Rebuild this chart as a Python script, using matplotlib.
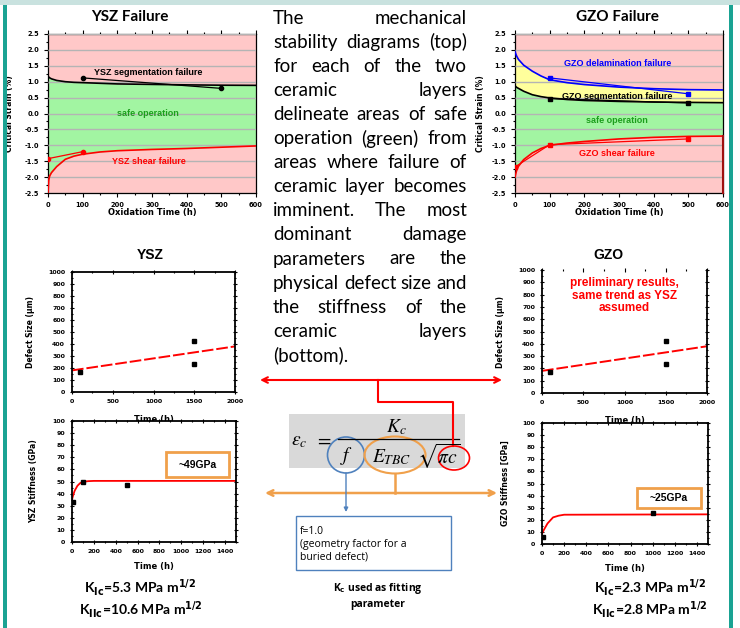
import matplotlib.pyplot as plt
from matplotlib.patches import Rectangle, Ellipse
from matplotlib.ticker import MultipleLocator

# ---- data: mechanical stability diagrams (critical strain, %) ----
t_fit = [0, 2, 5, 10, 25, 50, 75, 100, 150, 200, 300, 400, 500, 600]
ysz_seg_fit = [1.17, 1.15, 1.12, 1.09, 1.04, 1.00, 0.98, 0.97, 0.95, 0.93, 0.915, 0.90, 0.89, 0.885]
ysz_shear_fit = [-2.5, -2.1, -1.96, -1.86, -1.67, -1.44, -1.34, -1.28, -1.21, -1.17, -1.13, -1.10, -1.06, -1.02]
ysz_seg_t = [100, 500]
ysz_seg_pts = [1.12, 0.79]
ysz_shear_t = [0, 100]
ysz_shear_pts = [-1.42, -1.20]

gzo_del_fit = [1.95, 1.88, 1.80, 1.70, 1.52, 1.33, 1.18, 1.06, 0.97, 0.91, 0.83, 0.78, 0.75, 0.74]
gzo_seg_fit = [0.87, 0.85, 0.82, 0.79, 0.70, 0.59, 0.53, 0.49, 0.44, 0.41, 0.38, 0.36, 0.35, 0.34]
gzo_shear_fit = [-2.0, -1.9, -1.78, -1.66, -1.45, -1.24, -1.10, -1.00, -0.93, -0.88, -0.80, -0.75, -0.72, -0.71]
gzo_del_t = [100, 500]
gzo_del_pts = [1.12, 0.62]
gzo_seg_t = [100, 500]
gzo_seg_pts = [0.47, 0.33]
gzo_shear_t = [0, 100, 500]
gzo_shear_pts = [-1.68, -0.98, -0.80]
strain_ticks = [-2.5, -2.0, -1.5, -1.0, -0.5, 0.0, 0.5, 1.0, 1.5, 2.0, 2.5]

# ---- data: defect size (um) ----
defect_t = [100, 1500, 1500]
defect_um = [170, 425, 235]
defect_fit_t = [0, 2000]
defect_fit_um = [180, 380]

# ---- data: stiffness (GPa) ----
ysz_E_t = [10, 100, 500]
ysz_E = [33, 49.6, 47.4]
ysz_E_fit_t = [0, 10, 25, 50, 75, 100, 150, 200, 1500]
ysz_E_fit = [35, 38.5, 42.5, 46.5, 48.7, 49.8, 50.3, 50.5, 50.5]
gzo_E_t = [10, 1000]
gzo_E = [6, 25.3]
gzo_E_fit_t = [0, 10, 25, 50, 100, 150, 200, 1500]
gzo_E_fit = [8.5, 10.5, 13, 17, 22, 23.4, 24.2, 24.5]

para_lines = [
    "The mechanical",
    "stability diagrams (top)",
    "for each of the two",
    "ceramic layers",
    "delineate areas of safe",
    "operation (green) from",
    "areas where failure of",
    "ceramic layer becomes",
    "imminent. The most",
    "dominant damage",
    "parameters are the",
    "physical defect size and",
    "the stiffness of the",
    "ceramic layers",
    "(bottom).",
]

W, H = 740, 628
PINK = '#ffc8c8'
GREEN = '#a2f5a2'
YELLOW = '#ffff9c'
TEAL = '#1aa393'
ORANGE = '#f0a04b'
BLUE = '#4f81bd'

fig = plt.figure(figsize=(W / 100, H / 100), dpi=100)


def px_axes(l, t, r, b):
    return fig.add_axes([l / W, 1 - b / H, (r - l) / W, (b - t) / H])


def small_style(ax, direction='out', fs=4.5):
    for s in ax.spines.values():
        s.set_linewidth(0.9)
    ax.tick_params(which='both', direction=direction, labelsize=fs, width=0.8,
                   top=True, right=(direction != 'out'))
    ax.tick_params(which='major', length=3)
    ax.tick_params(which='minor', length=1.5)
    for lab in ax.get_xticklabels() + ax.get_yticklabels():
        lab.set_fontweight('bold')


def stability(ax, fits, pts, colors, mk):
    ax.set_facecolor(PINK)
    ax.xaxis.set_major_locator(MultipleLocator(100))
    ax.xaxis.set_minor_locator(MultipleLocator(50))
    ax.set_yticks(strain_ticks)
    ax.set_yticklabels([f'{v:.1f}' for v in strain_ticks])
    ax.yaxis.set_minor_locator(MultipleLocator(0.25))
    ax.set_xlim(0, 600)
    ax.set_ylim(-2.5, 2.5)
    ax.set_axisbelow(False)
    ax.yaxis.grid(True, color='#b4b4b4', lw=1.0)
    small_style(ax, fs=4.8)
    ax.set_ylabel('Critical Strain (%)', fontsize=5.5, fontweight='bold')
    ax.set_xlabel('Oxidation Time (h)', fontsize=6, fontweight='bold')
    ax.xaxis.set_label_coords(0.5, -0.095)
    for fy, c, (px, py) in zip(fits, colors, pts):
        ax.plot(t_fit, fy, color=c, lw=1.2, zorder=3)
        ax.plot(px, py, color=c, lw=0.9, marker=mk, ms=3, zorder=4)


# ---- top-left: YSZ failure ----
ax_ysz = px_axes(48, 34, 256, 193)
ax_ysz.fill_between(t_fit, ysz_shear_fit, ysz_seg_fit, color=GREEN, lw=0, zorder=1)
stability(ax_ysz, [ysz_seg_fit, ysz_shear_fit],
          [(ysz_seg_t, ysz_seg_pts), (ysz_shear_t, ysz_shear_pts)], ['black', 'red'], 'o')
ax_ysz.yaxis.set_label_coords(-0.163, 0.5)
kw = dict(fontsize=6.5, fontweight='bold', ha='center', va='center', family='Liberation Sans', zorder=5)
ax_ysz.text(290, 1.3, 'YSZ segmentation failure', color='black', **kw)
ax_ysz.text(288, 0.0, 'safe operation', color='#1c9e1c', **kw)
ax_ysz.text(290, -1.5, 'YSZ shear failure', color='red', **kw)

# ---- top-right: GZO failure ----
ax_gzo = px_axes(515, 34, 723, 193)
ax_gzo.fill_between(t_fit, gzo_shear_fit, gzo_seg_fit, color=GREEN, lw=0, zorder=1)
ax_gzo.fill_between(t_fit, gzo_seg_fit, gzo_del_fit, color=YELLOW, lw=0, zorder=1)
stability(ax_gzo, [gzo_del_fit, gzo_seg_fit, gzo_shear_fit],
          [(gzo_del_t, gzo_del_pts), (gzo_seg_t, gzo_seg_pts), (gzo_shear_t, gzo_shear_pts)],
          ['blue', 'black', 'red'], 's')
ax_gzo.yaxis.set_label_coords(-0.144, 0.5)
ax_gzo.plot([600, 600], [-2.5, -0.71], color='#a01010', lw=1.5, zorder=4, clip_on=False)
ax_gzo.text(297, 1.57, 'GZO delamination failure', color='blue', **kw)
ax_gzo.text(294, 0.55, 'GZO segmentation failure', color='black', **kw)
ax_gzo.text(294, -0.22, 'safe operation', color='#1c9e1c', **kw)
ax_gzo.text(294, -1.25, 'GZO shear failure', color='red', **kw)


# ---- defect size plots ----
def defect(ax, ylab_x):
    ax.set_xlim(0, 2000)
    ax.set_ylim(0, 1000)
    ax.xaxis.set_major_locator(MultipleLocator(500))
    ax.xaxis.set_minor_locator(MultipleLocator(250))
    ax.yaxis.set_major_locator(MultipleLocator(100))
    ax.yaxis.set_minor_locator(MultipleLocator(50))
    ax.plot(defect_fit_t, defect_fit_um, color='red', lw=1.4, ls=(0, (6, 1.5)))
    ax.plot(defect_t, defect_um, ls='none', marker='s', color='black', ms=3)
    small_style(ax, direction='inout', fs=4.5)
    for s in ax.spines.values():
        s.set_linewidth(1.3)
    ax.set_ylabel('Defect Size (\u00b5m)', fontsize=5.5, fontweight='bold')
    ax.set_xlabel('Time (h)', fontsize=6, fontweight='bold')
    ax.yaxis.set_label_coords(ylab_x, 0.5)
    ax.xaxis.set_label_coords(0.5, -0.19)


ax_dy = px_axes(72, 272, 235, 392)
defect(ax_dy, -0.227)
ax_dg = px_axes(542, 270, 707, 393)
defect(ax_dg, -0.224)
ax_dg.spines['top'].set_visible(False)
ax_dg.text(0.5, 0.79, 'preliminary results,\nsame trend as YSZ\nassumed', transform=ax_dg.transAxes,
           color='red', fontsize=8.5, fontweight='bold', ha='center', va='center',
           family='Liberation Sans', linespacing=1.05)


# ---- stiffness plots ----
def stiffness(ax, ylab, ylab_x, tt, ee, ft, fe):
    ax.set_xlim(0, 1500)
    ax.set_ylim(0, 100)
    ax.xaxis.set_major_locator(MultipleLocator(200))
    ax.xaxis.set_minor_locator(MultipleLocator(100))
    ax.yaxis.set_major_locator(MultipleLocator(10))
    ax.yaxis.set_minor_locator(MultipleLocator(5))
    ax.plot(ft, fe, color='red', lw=1.3)
    ax.plot(tt, ee, ls='none', marker='s', color='black', ms=2.5)
    small_style(ax, direction='inout', fs=4.5)
    for s in ax.spines.values():
        s.set_linewidth(1.3)
    ax.set_ylabel(ylab, fontsize=5.5, fontweight='bold')
    ax.set_xlabel('Time (h)', fontsize=6, fontweight='bold')
    ax.yaxis.set_label_coords(ylab_x, 0.5)
    ax.xaxis.set_label_coords(0.5, -0.168)


ax_ey = px_axes(72, 421, 236, 542)
stiffness(ax_ey, 'YSZ Stiffness (GPa)', -0.207, ysz_E_t, ysz_E, ysz_E_fit_t, ysz_E_fit)
ax_eg = px_axes(542, 423, 708, 544)
stiffness(ax_eg, 'GZO Stiffness [GPa]', -0.193, gzo_E_t, gzo_E, gzo_E_fit_t, gzo_E_fit)

# ---- overlay in pixel coordinates ----
ov = fig.add_axes([0, 0, 1, 1])
ov.set_xlim(0, W)
ov.set_ylim(H, 0)
ov.axis('off')
ov.set_zorder(10)

# frame
ov.add_patch(Rectangle((0, 0), W, 5, color='#c9e2df', lw=0))
ov.add_patch(Rectangle((3, 5), 4, H - 5, color=TEAL, lw=0))
ov.add_patch(Rectangle((729, 5), 4, H - 5, color=TEAL, lw=0))

# titles
ov.text(130, 17, 'YSZ Failure', fontsize=11, fontweight='bold', family='Lato', ha='center', va='center')
ov.text(617, 17, 'GZO Failure', fontsize=11, fontweight='bold', family='Lato', ha='center', va='center')
ov.text(150, 255, 'YSZ', fontsize=10, fontweight='bold', family='Liberation Sans', ha='center', va='center')
ov.text(608, 255, 'GZO', fontsize=10, fontweight='bold', family='Liberation Sans', ha='center', va='center')

# justified paragraph
renderer = fig.canvas.get_renderer()
x0, x1 = 273, 467
pfs = 13.5
for i, line in enumerate(para_lines):
    y = 18 + 24.1 * i
    words = line.split()
    if i == len(para_lines) - 1:
        ov.text(x0, y, line, fontsize=pfs, family='Lato', ha='left', va='center')
        continue
    texts = [ov.text(0, y, w, fontsize=pfs, family='Lato', ha='left', va='center') for w in words]
    widths = [t.get_window_extent(renderer).width for t in texts]
    gap = (x1 - x0 - sum(widths)) / (len(words) - 1)
    x = x0
    for t, wd in zip(texts, widths):
        t.set_x(x)
        x += wd + gap

# equation block
ov.add_patch(Rectangle((289, 414), 176, 54, color='#d9d9d9', lw=0))
mkw = dict(math_fontfamily='stix', ha='center', va='center', fontsize=14)
ov.text(299, 441, r'$\varepsilon_c$', **mkw)
ov.text(324, 440, r'$=$', **mkw)
ov.plot([338, 459], [439, 439], color='black', lw=0.9)
ov.text(396, 427, r'$K_c$', **mkw)
ov.text(347, 456, r'$f$', **mkw)
ov.text(392, 457, r'$E_{TBC}$', **mkw)
ov.text(439, 456, r'$\sqrt{\pi c}$', **mkw)
ov.add_patch(Ellipse((346, 455), 37, 36, fill=False, ec=BLUE, lw=1.2))
ov.add_patch(Ellipse((395, 455), 61, 37, fill=False, ec=ORANGE, lw=1.5))
ov.add_patch(Ellipse((454, 458), 31, 24, fill=False, ec='red', lw=1.2))

# connectors and arrows
ov.annotate('', xy=(260, 380), xytext=(502, 380),
            arrowprops=dict(arrowstyle='<->', color='red', lw=1.5, shrinkA=0, shrinkB=0, mutation_scale=10))
ov.plot([378, 378, 453, 453], [380, 402, 402, 446], color='red', lw=1.5)
ov.annotate('', xy=(265, 493), xytext=(497, 493),
            arrowprops=dict(arrowstyle='<->', color=ORANGE, lw=1.8, shrinkA=0, shrinkB=0, mutation_scale=10))
ov.plot([395, 395], [474, 493], color=ORANGE, lw=1.8)
ov.annotate('', xy=(346, 512), xytext=(346, 473),
            arrowprops=dict(arrowstyle='-|>', color=BLUE, lw=1.0, shrinkA=0, shrinkB=0, mutation_scale=6))

# f box
ov.add_patch(Rectangle((296, 516), 155, 54, fill=False, ec=BLUE, lw=1.0))
ov.text(300, 531, 'f=1.0', fontsize=7.5, family='Open Sans', va='center')
ov.text(300, 544, '(geometry factor for a', fontsize=7.5, family='Open Sans', va='center')
ov.text(300, 557, 'buried defect)', fontsize=7.5, family='Open Sans', va='center')
ov.text(378, 588, r'K$_\mathbf{c}$ used as fitting', fontsize=7.5, fontweight='bold', family='Open Sans',
        ha='center', va='center', math_fontfamily='dejavusans')
ov.text(378, 605, 'parameter', fontsize=7.5, fontweight='bold', family='Open Sans', ha='center', va='center')

# value boxes
ov.add_patch(Rectangle((166, 452), 63, 25, fill=False, ec=ORANGE, lw=2))
ov.text(197.5, 464.5, '~49GPa', fontsize=7.5, fontweight='bold', family='Liberation Sans', ha='center', va='center')
ov.add_patch(Rectangle((637, 488), 64, 20, fill=False, ec=ORANGE, lw=2))
ov.text(669, 498, '~25GPa', fontsize=7.5, fontweight='bold', family='Liberation Sans', ha='center', va='center')

# fracture toughness labels
kkw = dict(fontsize=10, fontweight='bold', family='Lato', ha='center', va='center', math_fontfamily='dejavusans')
ov.text(140, 588, r'K$_\mathbf{Ic}$=5.3 MPa m$^\mathbf{1/2}$', **kkw)
ov.text(141, 610, r'K$_\mathbf{IIc}$=10.6 MPa m$^\mathbf{1/2}$', **kkw)
ov.text(650, 588, r'K$_\mathbf{Ic}$=2.3 MPa m$^\mathbf{1/2}$', **kkw)
ov.text(650, 610, r'K$_\mathbf{IIc}$=2.8 MPa m$^\mathbf{1/2}$', **kkw)

fig.savefig('out.png', dpi=100)
